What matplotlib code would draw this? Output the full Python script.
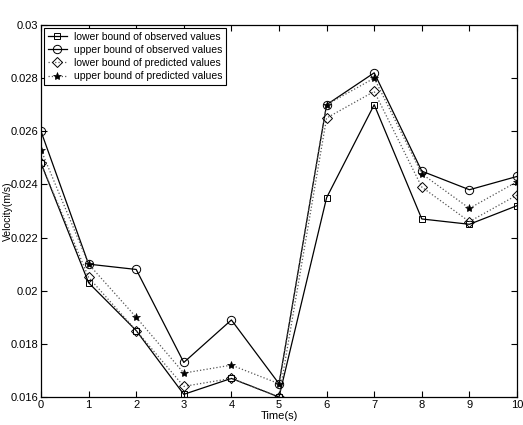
import matplotlib
matplotlib.use("Agg")
import matplotlib.pyplot as plt

t = [0, 1, 2, 3, 4, 5, 6, 7, 8, 9, 10]
lower_obs = [0.0248, 0.0203, 0.0185, 0.0161, 0.0167, 0.0160, 0.0235, 0.0270, 0.0227, 0.0225, 0.0232]
upper_obs = [0.0260, 0.0210, 0.0208, 0.0173, 0.0189, 0.0165, 0.0270, 0.0282, 0.0245, 0.0238, 0.0243]
lower_pred = [0.0248, 0.0205, 0.0185, 0.0164, 0.0167, 0.0160, 0.0265, 0.0275, 0.0239, 0.0226, 0.0236]
upper_pred = [0.0253, 0.0210, 0.0190, 0.0169, 0.0172, 0.0165, 0.0270, 0.0280, 0.0244, 0.0231, 0.0241]

plt.rcParams['font.family'] = ['Liberation Sans', 'DejaVu Sans']
plt.rcParams['font.size'] = 8

fig = plt.figure(figsize=(5.23, 4.25), dpi=100)
ax = fig.add_axes([41/523, 28/425, 476/523, 372/425])

ax.plot(t, lower_obs, '-', color='black', lw=0.9, marker='s', ms=5,
        mfc='none', mec='black', mew=0.7, label='lower bound of observed values')
ax.plot(t, upper_obs, '-', color='black', lw=0.9, marker='o', ms=6,
        mfc='none', mec='black', mew=0.7, label='upper bound of observed values')
ax.plot(t, lower_pred, ':', color='#555555', lw=0.9, marker='D', ms=5,
        mfc='none', mec='black', mew=0.7, label='lower bound of predicted values')
ax.plot(t, upper_pred, ':', color='#555555', lw=0.9, marker='*', ms=6,
        mfc='black', mec='black', mew=0.5, label='upper bound of predicted values')

ax.set_xlim(0, 10)
ax.set_ylim(0.016, 0.03)
ax.set_xticks(range(0, 11))
ax.set_yticks([0.016, 0.018, 0.02, 0.022, 0.024, 0.026, 0.028, 0.03])
ax.set_yticklabels(['0.016', '0.018', '0.02', '0.022', '0.024', '0.026', '0.028', '0.03'])
ax.tick_params(direction='in', top=True, right=True, length=4, width=0.8, pad=2)
for s in ax.spines.values():
    s.set_linewidth(0.9)

ax.set_xlabel('Time(s)', labelpad=1)
ax.set_ylabel('Velocity(m/s)', fontsize=7.5)
ax.yaxis.set_label_coords(-0.058, 0.5)

leg = ax.legend(loc='upper left', bbox_to_anchor=(0.0, 1.0), fancybox=False,
                edgecolor='black', framealpha=1, handlelength=1.8,
                borderpad=0.35, labelspacing=0.3, borderaxespad=0.3,
                handletextpad=0.7, fontsize=7.5)
leg.get_frame().set_linewidth(0.8)

fig.savefig('out.png', dpi=100)
